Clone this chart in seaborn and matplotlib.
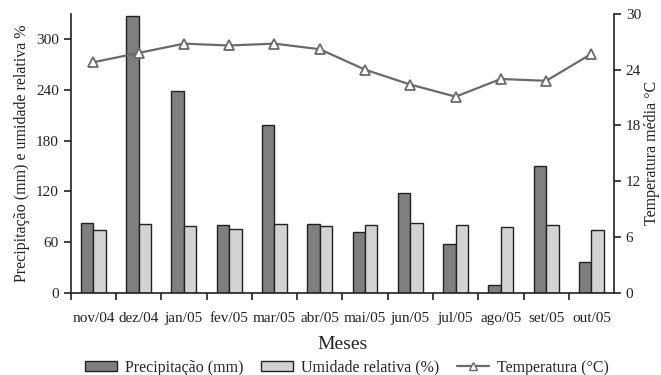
import matplotlib
matplotlib.use("Agg")
import matplotlib.pyplot as plt
import numpy as np
import pandas as pd
import seaborn as sns
from matplotlib.lines import Line2D
from matplotlib.patches import Patch

months = ["nov/04", "dez/04", "jan/05", "fev/05", "mar/05", "abr/05",
          "mai/05", "jun/05", "jul/05", "ago/05", "set/05", "out/05"]
precip = [83, 327, 239, 80, 199, 82, 72, 118, 58, 9, 150, 37]
humidity = [74, 82, 79, 76, 82, 79, 80, 83, 80, 78, 80, 74]
temperature = [24.8, 25.8, 26.8, 26.6, 26.8, 26.2, 24.0, 22.4, 21.1, 23.0, 22.8, 25.7]

series_names = ["Precipitação (mm)", "Umidade relativa (%)"]
dark, light, line_col, edge = "#7f7f7f", "#d3d3d3", "#6a6a6a", "#222222"

df = pd.DataFrame({
    "mes": months * 2,
    "valor": precip + humidity,
    "serie": [series_names[0]] * len(months) + [series_names[1]] * len(months),
})

sns.set_theme(style="ticks")
plt.rcParams["font.family"] = ["Liberation Serif", "DejaVu Serif"]

fig = plt.figure(figsize=(6.61, 3.75), dpi=100)
ax = fig.add_axes([0.107, 0.219, 0.822, 0.744])

sns.barplot(data=df, x="mes", y="valor", hue="serie", order=months,
            palette=[dark, light], width=0.55, gap=0, edgecolor=edge,
            linewidth=1, legend=False, ax=ax)

ax.set_xlim(-0.5, len(months) - 0.5)
ax.set_ylim(0, 330)
ax.set_yticks([0, 60, 120, 180, 240, 300])
ax.set_ylabel("Precipitação (mm) e umidade relativa %", fontsize=11.5,
              color="#222", labelpad=4)
ax.set_xlabel("Meses", fontsize=14, color="#222", labelpad=8)

# tick marks between the months, labels at the centres
ax.set_xticks(np.arange(len(months)) - 0.5, minor=True)
ax.tick_params(axis="x", which="major", length=0, pad=14, labelsize=11, colors="#222")
ax.tick_params(axis="x", which="minor", length=5, width=1.2, direction="out", color="#222")
ax.tick_params(axis="y", length=5, width=1.2, labelsize=11, colors="#222")

ax2 = ax.twinx()
sns.lineplot(x=np.arange(len(months)), y=temperature, ax=ax2, color=line_col,
             linewidth=1.6, marker="^", markersize=7, markerfacecolor="white",
             markeredgecolor=line_col, markeredgewidth=1.3)
ax2.set_xlim(-0.5, len(months) - 0.5)
ax2.set_ylim(0, 30)
ax2.set_yticks([0, 6, 12, 18, 24, 30])
ax2.set_ylabel("Temperatura média °C", fontsize=11.5, color="#222", labelpad=2)
ax2.tick_params(axis="y", length=5, width=1.2, labelsize=11, colors="#222")

for a in (ax, ax2):
    a.spines["top"].set_visible(False)
    for s in ("left", "right", "bottom"):
        a.spines[s].set_color("#222")
        a.spines[s].set_linewidth(1.2)
ax.spines["right"].set_visible(False)
ax2.spines["left"].set_visible(False)
ax2.spines["bottom"].set_visible(False)

handles = [
    Patch(facecolor=dark, edgecolor=edge, linewidth=1),
    Patch(facecolor=light, edgecolor=edge, linewidth=1),
    Line2D([], [], color=line_col, linewidth=1.6, marker="^", markersize=6,
           markerfacecolor="white", markeredgecolor=line_col),
]
fig.legend(handles, series_names + ["Temperatura (°C)"], loc="lower center",
           bbox_to_anchor=(0.525, -0.04), ncol=3, frameon=False, fontsize=11.5,
           handlelength=2.0, handleheight=0.6, handletextpad=0.5, columnspacing=1.1)

fig.savefig("out.png", dpi=100)
